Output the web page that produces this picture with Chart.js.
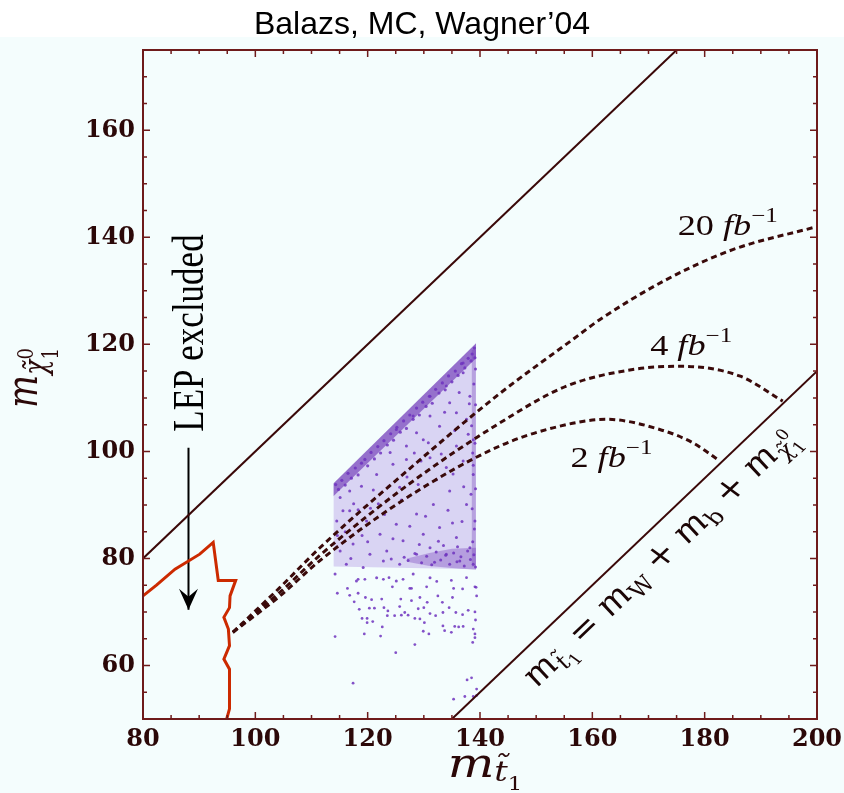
<!DOCTYPE html>
<html>
<head>
<meta charset="utf-8">
<script src="https://cdn.jsdelivr.net/npm/chart.js@4.4.0/dist/chart.umd.min.js"></script>
<style>
  html, body { margin: 0; padding: 0; background: #fff; }
  #wrap { width: 844px; height: 793px; }
</style>
</head>
<body>
<div id="wrap"><canvas id="graph" width="844" height="793"></canvas></div>
<script>
// Axis ticks
const xTicks = [80, 100, 120, 140, 160, 180, 200];
const yTicks = [60, 80, 100, 120, 140, 160];

// Kinematic boundaries
const upperLineX = [80, 175];
const upperLineY = [80, 175];
const lowerLineX = [135, 200];
const lowerLineY = [50, 115];

// LEP excluded contour
const lepX = [80, 82.4, 85.7, 90.1, 92.5, 93.4, 96.5, 95.5, 95.4, 94.4, 95.2, 95.4, 94.4, 95.4, 95.4, 94.9];
const lepY = [73.0, 75.0, 78.0, 80.8, 83.0, 75.9, 75.9, 73.0, 70.8, 69.0, 66.8, 63.7, 61.2, 59.3, 51.9, 50];

// Tevatron reach curves
const reach20X = [96, 104.4, 111.5, 127.5, 143.5, 156.5, 161.3, 173.2, 185, 200];
const reach20Y = [66.2, 74.6, 82.0, 96.8, 110.8, 120.9, 124.6, 132.1, 137.7, 142.0];
const reach4X = [96, 104.4, 111.5, 127.5, 143.5, 155.4, 167.2, 175.6, 186.2, 193.9];
const reach4Y = [66.2, 73.7, 80.6, 94.0, 105.3, 112.2, 115.3, 115.9, 114.1, 109.4];
const reach2X = [96, 104.4, 111.5, 127.5, 143.5, 153, 162.5, 172, 177.9, 182.7];
const reach2Y = [66.2, 73.0, 79.6, 91.7, 101.0, 104.4, 106.0, 104.1, 101.6, 98.2];

// Scan region (dense part, edges)
const scanEdgeX = [113.9, 139.3];
const scanTopY = [94.0, 120.2];
const scanBandY = [91.6, 117.4];
const scanBottomY = [78.5, 78.0];
const tailX = [127, 131, 135, 139.3];
const tailTopY = [80.0, 81.0, 81.8, 82.0];
const tailBottomY = [79.4, 78.6, 78.2, 77.9];
const rightEdgeX = [138.9, 138.9];
const rightEdgeY = [78.5, 119];

// Scan points: inside the triangle
const scanX = [
  125.1, 128.1, 131.1, 134.0, 137.0, 138.2, 135.8, 132.8, 129.9, 126.9, 124.0, 131.1, 134.6, 137.6, 138.8, 135.8, 128.7, 137.0,
  115.1, 116.8, 118.9, 121.6, 124.5, 126.9, 131.1, 134.0, 137.0, 138.8, 114.5, 116.8, 119.8, 122.2, 125.1, 128.7, 131.7, 134.6,
  137.6, 139.1, 115.1, 117.4, 120.4, 123.4, 126.3, 129.9, 132.8, 135.8, 138.2, 116.2, 119.2, 122.8, 125.7, 128.7, 131.1, 134.0,
  136.4, 138.8, 114.2, 118.0, 121.6, 125.1, 128.1, 131.1,
  116.0, 117.5, 119.0, 120.5, 121.0, 123.0, 123.8, 124.5, 126.0, 127.0, 127.5, 129.0, 129.5, 130.3, 130.8, 132.2, 132.6, 133.1,
  133.7, 134.3, 135.2, 135.5, 136.3, 136.8, 137.1, 137.9, 138.1, 121.9, 118.3, 115.6, 114.6, 117.0, 120.0, 124.2, 126.5, 129.2,
  131.9, 135.1, 125.7, 128.3
];
const scanY = [
  104.1, 106.6, 110.3, 112.2, 114.7, 110.3, 107.2, 104.7, 102.2, 101.0, 99.8, 106.6, 109.1, 106.0, 102.2, 101.0, 103.5, 116.5,
  91.4, 92.6, 93.5, 95.7, 97.6, 98.5, 98.8, 97.0, 98.2, 95.7, 87.0, 88.9, 87.0, 84.5, 86.4, 88.3, 90.1, 92.6,
  90.1, 87.0, 81.4, 82.7, 80.8, 81.4, 83.3, 84.5, 85.8, 83.9, 82.0, 78.9, 78.3, 79.5, 78.9, 80.8, 82.0, 80.8,
  79.5, 78.9, 77.1, 75.8, 76.4, 75.8, 77.1, 76.4,
  85.0, 90.2, 84.3, 89.4, 92.8, 88.2, 93.5, 83.7, 90.9, 95.2, 86.0, 93.8, 98.2, 87.9, 101.6, 94.7, 83.2, 99.5,
  107.3, 89.0, 95.8, 103.9, 111.0, 86.9, 93.4, 103.2, 108.9, 90.2, 89.1, 88.9, 84.3, 80.0, 83.1, 79.9, 80.2, 82.6,
  79.3, 86.6, 93.3, 99.7
];

// Scan points: dense band under the upper edge
const bandPtsX = [
  114.3, 114.8, 115.4, 116.0, 116.5, 117.1, 117.8, 118.3, 118.9, 119.5, 120.0, 120.6, 121.2, 121.8, 122.3, 122.9, 123.5, 124.1,
  124.6, 125.2, 125.8, 126.4, 126.9, 127.5, 128.1, 128.7, 129.2, 129.8, 130.4, 131.0, 131.5, 132.1, 132.7, 133.3, 133.8, 134.4,
  135.0, 135.6, 136.1, 136.7, 137.3, 137.9, 138.4, 139.0, 138.6, 139.1
];
const bandPtsY = [
  93.8, 92.9, 94.6, 93.7, 95.9, 95.0, 96.9, 95.6, 97.8, 98.5, 97.3, 99.8, 98.6, 100.9, 99.7, 102.0, 101.2, 103.3,
  102.1, 104.5, 103.6, 105.7, 104.3, 106.8, 106.0, 108.1, 106.8, 109.2, 108.4, 110.3, 109.0, 111.6, 110.9, 112.8, 111.5, 114.1,
  113.0, 115.0, 114.2, 116.4, 115.6, 117.4, 116.9, 119.3, 118.2, 117.5
];

// Scan points: blob near the bottom right and the right edge
const tailPtsX = [
  127.2, 128.4, 129.6, 130.5, 131.4, 132.2, 133.0, 133.9, 134.6, 135.3, 135.9, 136.6, 137.2, 137.8, 138.3, 138.9, 139.2, 136.0,
  133.5, 138.7, 139.0, 138.6, 139.2, 138.8, 139.1, 138.5, 139.2, 138.9, 139.2, 138.4, 138.7
];
const tailPtsY = [
  79.6, 80.9, 79.2, 80.4, 78.8, 81.2, 79.7, 80.6, 78.9, 81.0, 79.4, 80.3, 78.6, 81.4, 79.8, 80.7, 78.4, 82.2,
  82.4, 83.1, 85.5, 89.3, 93.0, 97.4, 101.5, 104.8, 108.7, 112.6, 115.4, 92.0, 99.7
];

// Scan points: sparse tail below the triangle
const sparseX = [
  118.3, 119.5, 123.8, 126.3, 132.3, 134.9, 137.6, 139.1, 116.4, 114.6, 116.8, 118.3, 124.4, 127.8, 130.5, 135.3, 136.9, 119.6,
  122.5, 125.9, 129.3, 132.5, 135.1, 139.4, 117.6, 120.7, 127.8, 130.6, 133.3, 118.5, 120.3, 121.2, 122.9, 125.7, 129.0, 130.0,
  134.5, 137.9, 123.6, 126.6, 131.1, 133.4, 135.7, 123.5, 124.8, 126.0, 127.2, 132.1, 136.9, 139.1, 119.0, 119.9, 128.4, 129.3,
  139.2, 119.9, 120.9, 130.1, 122.6, 133.4, 135.5, 136.2, 137.0, 138.8, 129.9, 133.7, 134.9, 119.4, 130.9, 139.1, 114.2, 122.3,
  139.1, 138.7, 128.4, 125.0, 117.4, 137.7, 138.5, 139.4, 139.4, 138.8, 137.3, 135.3, 139.3, 122.8, 127.5
];
const sparseY = [
  76.1, 76.1, 76.4, 76.1, 75.7, 75.9, 76.4, 74.7, 74.4, 73.5, 73.1, 73.5, 74.7, 74.4, 74.7, 74.4, 74.3, 72.7,
  72.4, 72.4, 72.7, 73.0, 72.7, 73.0, 71.9, 72.3, 72.1, 71.8, 71.8, 70.5, 70.7, 70.7, 70.8, 71.0, 70.6, 70.8,
  70.8, 70.3, 70.2, 69.9, 69.7, 69.9, 69.9, 69.3, 69.3, 69.4, 69.4, 69.3, 69.5, 70.0, 68.8, 68.8, 68.8, 68.7,
  68.5, 68.0, 68.2, 68.0, 67.2, 67.4, 67.3, 67.2, 67.3, 66.8, 66.4, 66.5, 66.2, 65.9, 65.9, 65.9, 65.4, 65.5,
  65.2, 64.3, 63.9, 62.4, 56.7, 57.3, 57.7, 55.6, 54.4, 54.2, 54.2, 53.7, 74.6, 76.1, 74.4
];

// LEP arrow
const arrowX = [88.1, 88.1];
const arrowY = [100.7, 70.4];

function pts(xs, ys) {
  return xs.map((x, i) => ({ x: x, y: ys[i] }));
}

const frameColor = '#6e1b1b';
const inkColor = '#2b0808';
const clear = 'rgba(0,0,0,0)';
const dotColor = 'rgba(110,50,190,0.85)';

function layoutRuns(ctx, runs) {
  let cur = 0;
  let last = 0;
  const out = [];
  runs.forEach((r) => {
    ctx.font = r.f;
    const w = ctx.measureText(r.t).width;
    const start = r.over ? last : cur;
    out.push({ r: r, start: start });
    if (!r.over) last = start;
    cur = Math.max(cur, start + w);
  });
  return { out: out, width: cur };
}

// draw a row of text pieces (sub/superscripts), stretched horizontally by sx
function drawRuns(ctx, runs, x, y, angle, sx, anchor, color) {
  const lay = layoutRuns(ctx, runs);
  ctx.save();
  ctx.translate(x, y);
  ctx.scale(sx, 1);
  ctx.rotate(angle);
  ctx.fillStyle = color;
  ctx.textAlign = 'left';
  ctx.textBaseline = 'alphabetic';
  const x0 = -lay.width * anchor;
  lay.out.forEach((o) => {
    ctx.font = o.r.f;
    ctx.fillText(o.r.t, x0 + o.start, o.r.dy || 0);
  });
  ctx.restore();
}

const serif = '"Liberation Serif", serif';
const dvs = '"DejaVu Serif", serif';

const decorations = {
  id: 'decorations',
  beforeDraw(chart) {
    const ctx = chart.ctx;
    ctx.save();
    ctx.fillStyle = '#ffffff';
    ctx.fillRect(0, 0, chart.width, chart.height);
    ctx.fillStyle = '#f4fdfd';
    ctx.fillRect(0, 37, chart.width, chart.height - 37);
    ctx.restore();
  },
  afterDatasetsDraw(chart) {
    const ctx = chart.ctx;
    const xs = chart.scales.x;
    const ys = chart.scales.y;
    const a = chart.chartArea;

    // arrow head
    const tx = xs.getPixelForValue(arrowX[1]);
    const ty = ys.getPixelForValue(arrowY[1]);
    ctx.save();
    ctx.fillStyle = '#000';
    ctx.beginPath();
    ctx.moveTo(tx, ty);
    ctx.lineTo(tx - 9.5, ty - 21);
    ctx.lineTo(tx, ty - 13);
    ctx.lineTo(tx + 9.5, ty - 21);
    ctx.closePath();
    ctx.fill();
    ctx.restore();

    // frame and ticks
    ctx.save();
    ctx.strokeStyle = frameColor;
    ctx.lineWidth = 2;
    ctx.strokeRect(a.left, a.top, a.right - a.left, a.bottom - a.top);
    ctx.lineWidth = 1.5;
    ctx.beginPath();
    for (let v = xs.min; v <= xs.max; v += 5) {
      const px = xs.getPixelForValue(v);
      const len = xTicks.includes(v) ? 7 : 4;
      ctx.moveTo(px, a.bottom);
      ctx.lineTo(px, a.bottom - len);
      ctx.moveTo(px, a.top);
      ctx.lineTo(px, a.top + len);
    }
    for (let v = 55; v <= ys.max; v += 5) {
      const py = ys.getPixelForValue(v);
      const len = yTicks.includes(v) ? 7 : 4;
      ctx.moveTo(a.left, py);
      ctx.lineTo(a.left + len, py);
      ctx.moveTo(a.right, py);
      ctx.lineTo(a.right - len, py);
    }
    ctx.stroke();

    // tick labels
    ctx.fillStyle = inkColor;
    ctx.font = 'bold 24px ' + dvs;
    ctx.textAlign = 'center';
    ctx.textBaseline = 'alphabetic';
    xTicks.forEach((v) => ctx.fillText(String(v), xs.getPixelForValue(v), 746));
    ctx.textAlign = 'right';
    ctx.textBaseline = 'middle';
    yTicks.forEach((v) => ctx.fillText(String(v), a.left - 8, ys.getPixelForValue(v)));
    ctx.restore();

    // title
    ctx.save();
    ctx.fillStyle = '#000';
    ctx.font = '32px "Liberation Sans", Arial, sans-serif';
    ctx.textAlign = 'center';
    ctx.textBaseline = 'alphabetic';
    ctx.fillText('Balazs, MC, Wagner\u201904', chart.width / 2, 34);
    ctx.restore();

    // axis titles
    drawRuns(ctx, [
      { t: 'm', f: 'italic 41px ' + dvs },
      { t: 't\u0303', f: 'italic 28px ' + dvs, dy: 4 },
      { t: '1', f: '19px ' + dvs, dy: 13 }
    ], 485, 777, 0, 1.2, 0.5, inkColor);
    drawRuns(ctx, [
      { t: 'm', f: 'italic 35px ' + dvs },
      { t: '\u03c7\u0303', f: 'italic 25px ' + dvs, dy: 7 },
      { t: '1', f: '18px ' + dvs, dy: 17 },
      { t: '0', f: '18px ' + dvs, dy: -3, over: true }
    ], 37, 378, -Math.PI / 2, 1.25, 0.5, inkColor);

    // LEP label
    drawRuns(ctx, [{ t: 'LEP excluded', f: '35px ' + serif }], 203, 333, -Math.PI / 2, 1.25, 0.5, '#000');

    // luminosity labels
    const lumi = [['20 ', 175.2, 140.5], ['4 ', 170.3, 118.1], ['2 ', 156.1, 97.0]];
    lumi.forEach((l) => {
      drawRuns(ctx, [
        { t: l[0], f: '29px ' + serif },
        { t: 'fb', f: 'italic 29px ' + serif },
        { t: '\u22121', f: '20px ' + serif, dy: -13 }
      ], xs.getPixelForValue(l[1]), ys.getPixelForValue(l[2]), 0, 1.25, 0, '#1a0505');
    });

    // label along the lower line
    const dx = xs.getPixelForValue(lowerLineX[1]) - xs.getPixelForValue(lowerLineX[0]);
    const dy = ys.getPixelForValue(lowerLineY[1]) - ys.getPixelForValue(lowerLineY[0]);
    const sx = 1.2;
    const ang = Math.atan2(dy, dx / sx);
    const it = 'italic 31px ' + dvs;
    const rm = '31px ' + dvs;
    drawRuns(ctx, [
      { t: 'm', f: it },
      { t: 't\u0303', f: 'italic 21px ' + dvs, dy: 6 },
      { t: '1', f: '15px ' + dvs, dy: 10 },
      { t: ' = ', f: rm },
      { t: 'm', f: it },
      { t: 'W', f: '21px ' + dvs, dy: 6 },
      { t: ' + ', f: rm },
      { t: 'm', f: it },
      { t: 'b', f: '21px ' + dvs, dy: 6 },
      { t: ' + ', f: rm },
      { t: 'm', f: it },
      { t: '\u03c7\u0303', f: 'italic 21px ' + dvs, dy: 6 },
      { t: '1', f: '15px ' + dvs, dy: 11 },
      { t: '0', f: '15px ' + dvs, dy: -8, over: true }
    ], xs.getPixelForValue(173.4), ys.getPixelForValue(79.0), ang, sx, 0.5, '#1a0505');
  }
};

const dashed = (data) => ({
  data: data,
  showLine: true,
  borderColor: '#3a0a0a',
  borderWidth: 3,
  borderDash: [6, 4],
  cubicInterpolationMode: 'monotone',
  pointRadius: 0,
  fill: false
});

const solid = (data, color, width) => ({
  data: data,
  showLine: true,
  borderColor: color,
  borderWidth: width,
  pointRadius: 0,
  tension: 0,
  fill: false
});

const dots = (data, r) => ({
  data: data,
  showLine: false,
  pointRadius: r,
  pointBorderWidth: 0,
  pointBackgroundColor: dotColor
});

const ctx = document.getElementById('graph').getContext('2d');
const chart = new Chart(ctx, {
  type: 'scatter',
  data: {
    datasets: [
      dashed(pts(reach20X, reach20Y)),
      dashed(pts(reach4X, reach4Y)),
      dashed(pts(reach2X, reach2Y)),
      solid(pts(upperLineX, upperLineY), '#3a0808', 2),
      solid(pts(lowerLineX, lowerLineY), '#3a0808', 2),
      solid(pts(lepX, lepY), '#cc2a00', 3),
      solid(pts(arrowX, arrowY), '#000000', 2),
      dots(pts(scanX, scanY), 1.5),
      dots(pts(bandPtsX, bandPtsY), 1.6),
      dots(pts(tailPtsX, tailPtsY), 1.5),
      dots(pts(sparseX, sparseY), 1.4),
      solid(pts(rightEdgeX, rightEdgeY), 'rgba(105,45,180,0.3)', 4),
      // dense band near the top edge
      { data: pts(scanEdgeX, scanTopY), showLine: true, borderColor: clear, pointRadius: 0, fill: '+1', backgroundColor: 'rgba(100,40,175,0.58)' },
      { data: pts(scanEdgeX, scanBandY), showLine: true, borderColor: clear, pointRadius: 0, fill: false },
      // dense blob near the bottom right
      { data: pts(tailX, tailTopY), showLine: true, borderColor: clear, pointRadius: 0, fill: '+1', backgroundColor: 'rgba(105,45,180,0.32)' },
      { data: pts(tailX, tailBottomY), showLine: true, borderColor: clear, pointRadius: 0, fill: false },
      // main scan triangle
      { data: pts(scanEdgeX, scanTopY), showLine: true, borderColor: clear, pointRadius: 0, fill: '+1', backgroundColor: 'rgba(140,95,215,0.26)' },
      { data: pts(scanEdgeX, scanBottomY), showLine: true, borderColor: clear, pointRadius: 0, fill: false }
    ]
  },
  options: {
    responsive: false,
    devicePixelRatio: 1,
    animation: false,
    events: [],
    layout: { padding: { left: 143, right: 27, top: 50, bottom: 74 } },
    scales: {
      x: { type: 'linear', min: 80, max: 200, display: false },
      y: { type: 'linear', min: 50, max: 175, display: false }
    },
    plugins: {
      legend: { display: false },
      tooltip: { enabled: false },
      title: { display: false }
    }
  },
  plugins: [decorations]
});
</script>
</body>
</html>
